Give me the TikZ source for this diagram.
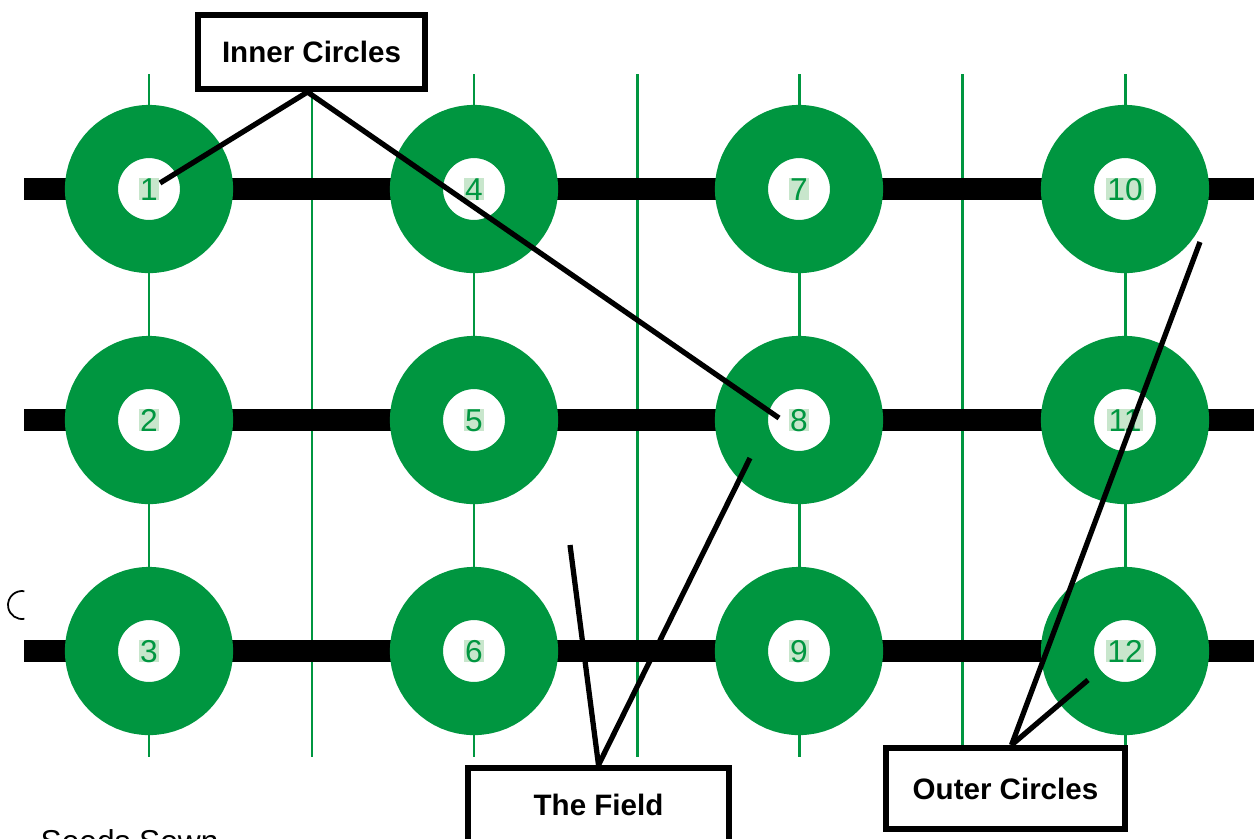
\documentclass[tikz,border=0pt]{standalone}
\usepackage{fontspec}
\setmainfont{Liberation Sans}
\usepackage{xcolor}
\usepackage{tikz}
\usetikzlibrary{positioning,calc}
\definecolor{fieldgreen}{RGB}{0,150,64}
\definecolor{numshade}{RGB}{200,230,204}
\tikzstyle{ring}     =[circle, draw=fieldgreen, line width=15.1pt, fill=white, minimum size=1.15cm, inner sep=0pt]
\tikzstyle{num}      =[fill=numshade, text=fieldgreen, font=\fontsize{9}{10}\selectfont,
                       inner xsep=0.4pt, inner ysep=0pt, text height=6.4pt, text depth=0pt]
\tikzstyle{labelbox} =[draw, line width=1.7pt, fill=white, font=\bfseries\fontsize{8.4}{10}\selectfont]
\tikzstyle{callout}  =[line width=1.5pt]
\tikzstyle{furrow}   =[fieldgreen, line width=0.85pt]
\tikzstyle{bar}      =[line width=6pt]

\begin{document}
\begin{tikzpicture}[x=0.01cm, y=-0.01cm]
  \useasboundingbox (0,0) rectangle (1254,838);

  % ── furrows and rows ──────────────────────────────────────────────────────
  \draw[furrow] (149,74) -- (149,757);
  \draw[furrow] (312,74) -- (312,757);
  \draw[furrow] (474,74) -- (474,757);
  \draw[furrow] (637,74) -- (637,757);
  \draw[furrow] (799,74) -- (799,757);
  \draw[furrow] (962,74) -- (962,757);
  \draw[furrow] (1125,74) -- (1125,757);

  \draw[bar] (24,189) -- (1270,189);
  \draw[bar] (24,420) -- (1270,420);
  \draw[bar] (24,651) -- (1270,651);

  % ── seed circles ──────────────────────────────────────────────────────────
  \node[ring, label={[num]center:1}]  (c1)  at (149,189) {};
  \node[ring, label={[num]center:2}]  (c2)  at (149,420) {};
  \node[ring, label={[num]center:3}]  (c3)  at (149,651) {};
  \node[ring, label={[num]center:4}]  (c4)  at (474,189) {};
  \node[ring, label={[num]center:5}]  (c5)  at (474,420) {};
  \node[ring, label={[num]center:6}]  (c6)  at (474,651) {};
  \node[ring, label={[num]center:7}]  (c7)  at (799,189) {};
  \node[ring, label={[num]center:8}]  (c8)  at (799,420) {};
  \node[ring, label={[num]center:9}]  (c9)  at (799,651) {};
  \node[ring, label={[num]center:10}] (c10) at (1125,189) {};
  \node[ring, label={[num]center:11}] (c11) at (1125,420) {};
  \node[ring, label={[num]center:12}] (c12) at (1125,651) {};

  % ── callout boxes ─────────────────────────────────────────────────────────
  \node[labelbox, minimum width=2.27cm, minimum height=0.74cm] (inner) at (311.5,52)   {Inner Circles};
  \node[labelbox, minimum width=2.61cm, minimum height=0.74cm] (field) at (598.5,805)  {The Field};
  \node[labelbox, minimum width=2.39cm, minimum height=0.81cm] (outer) at (1005.5,788.5) {Outer Circles};

  \coordinate (fieldgap) at (570,545);

  % ── callout lines ─────────────────────────────────────────────────────────
  \draw[callout] ($(inner.south)+(-4,0)$) -- ($(c1)+(11,-6)$);
  \draw[callout] ($(inner.south)+(-4,0)$) -- ($(c8)+(-20,-2)$);
  \draw[callout] (field.north) -- ($(c8)+(-49,38)$);
  \draw[callout] (field.north) -- (fieldgap);
  \draw[callout] ($(outer.north)+(6,0)$) -- ($(c10)+(75,53)$);
  \draw[callout] ($(outer.north)+(6,0)$) -- ($(c12)+(-37,29)$);

  % ── stray mark and caption ────────────────────────────────────────────────
  \draw[line width=0.5pt] (22,605) ++(80:14) arc (80:280:14);
  \node[anchor=base west, inner sep=0pt, font=\fontsize{9}{10}\selectfont] (seeds) at (40,852) {Seeds Sown};

\end{tikzpicture}
\end{document}
